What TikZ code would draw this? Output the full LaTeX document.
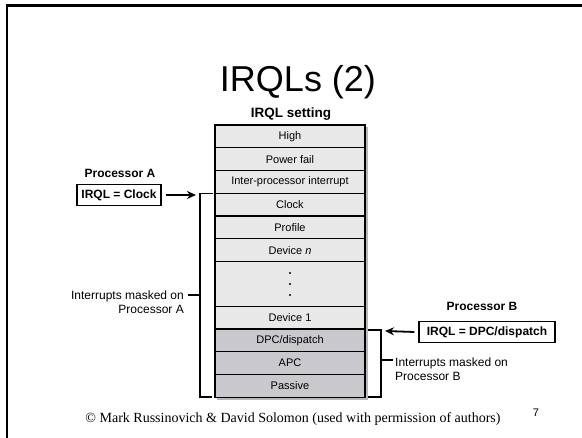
\documentclass[tikz,border=0pt]{standalone}
\usepackage{fontspec}
\setmainfont{Liberation Sans}
\newfontfamily\footfont{Liberation Serif}
\usetikzlibrary{arrows.meta}
\definecolor{lvllight}{HTML}{E8E8E8}
\definecolor{lvldark}{HTML}{C9C8CC}
\definecolor{lvlshade}{HTML}{B8B8B8}

\begin{document}
\begin{tikzpicture}[x=1pt,y=-1pt,
  lvl/.style={draw, line width=1.1pt, fill=lvllight, minimum width=150pt, minimum height=22.75pt, font=\fontsize{11}{13}\selectfont},
  lvldk/.style={lvl, fill=lvldark},
  irql/.style={draw, line width=1.1pt, minimum height=21pt, font=\bfseries\fontsize{12}{14}\selectfont},
  proc/.style={font=\bfseries\fontsize{12}{14}\selectfont},
  mask/.style={font=\fontsize{12}{14}\selectfont},
  pin/.style={line width=1.8pt, -{Stealth[length=9pt,width=8pt]}},
  brack/.style={line width=1.1pt}]
  \tikzstyle{every node}+=[inner sep=0pt]
  \useasboundingbox (0,0) rectangle (582,438);
  % slide frame
  \draw [line width=2.5pt] (582,5.3) -- (7.2,5.3) -- (7.2,438);
  \draw (298,92) node [anchor=base, font=\fontsize{36}{40}\selectfont] (title) {IRQLs (2)};
  \draw (291,118) node [anchor=base, font=\bfseries\fontsize{13.5}{15}\selectfont] (setting) {IRQL setting};
  % levels
  \fill [lvlshade] (217,127) rectangle (367.5,400);
  \node [lvl] (high) at (290,136.4) {High};
  \node [lvl] (pwr) at (290,159.1) {Power fail};
  \node [lvl] (ipi) at (290,181.9) {Inter-processor interrupt};
  \node [lvl] (clock) at (290,204.6) {Clock};
  \node [lvl] (profile) at (290,227.4) {Profile};
  \node [lvl] (devn) at (290,250.1) {Device \textit{n}};
  \node [lvl, minimum height=45.5pt] (dots) at (290,284.25) {};
  \fill (290,273) circle (1.2) (290,284) circle (1.2) (290,295) circle (1.2);
  \node [lvl] (dev1) at (290,317.6) {Device 1};
  \node [lvldk] (dpc) at (290,340.4) {DPC/dispatch};
  \node [lvldk] (apc) at (290,363.1) {APC};
  \node [lvldk] (passive) at (290,385.9) {Passive};
  % processor A
  \draw (120,173) node [proc] (procA) {Processor A};
  \node [irql, minimum width=84pt] (irqlA) at (119,195) {IRQL = Clock};
  \coordinate (aTip) at (196,195);
  \coordinate (aTop) at (213,193.3);
  \coordinate (aBot) at (212,397);
  \draw [pin] (irqlA.east) ++(4,0) -- (aTip);
  \draw [brack] (aTop) -- ++(-13,0) |- (aBot);
  \draw [brack] (188,295) -- (200,295);
  \draw (184,302) node [mask, anchor=east, align=right] (maskA) {Interrupts masked on\\Processor A};
  % processor B
  \draw (482,306) node [proc] (procB) {Processor B};
  \node [irql, minimum width=136pt] (irqlB) at (487,332) {IRQL = DPC/dispatch};
  \coordinate (bTip) at (385,331);
  \coordinate (bTop) at (368,330);
  \coordinate (bBot) at (368,397);
  \draw [pin] (irqlB.west) ++(-4,0) -- (bTip);
  \draw [brack] (bTop) -- ++(13,0) |- (bBot);
  \draw [brack] (381,360) -- (393,360);
  \draw (395,369) node [mask, anchor=west, align=left] (maskB) {Interrupts masked on\\Processor B};
  % footer
  \draw (293,423) node [anchor=base, font=\footfont\fontsize{14}{16}\selectfont] (credit) {\textcopyright{} Mark Russinovich \& David Solomon (used with permission of authors)};
  \draw (536,417) node [anchor=base, font=\fontsize{11}{13}\selectfont] (page) {7};
\end{tikzpicture}
\end{document}
